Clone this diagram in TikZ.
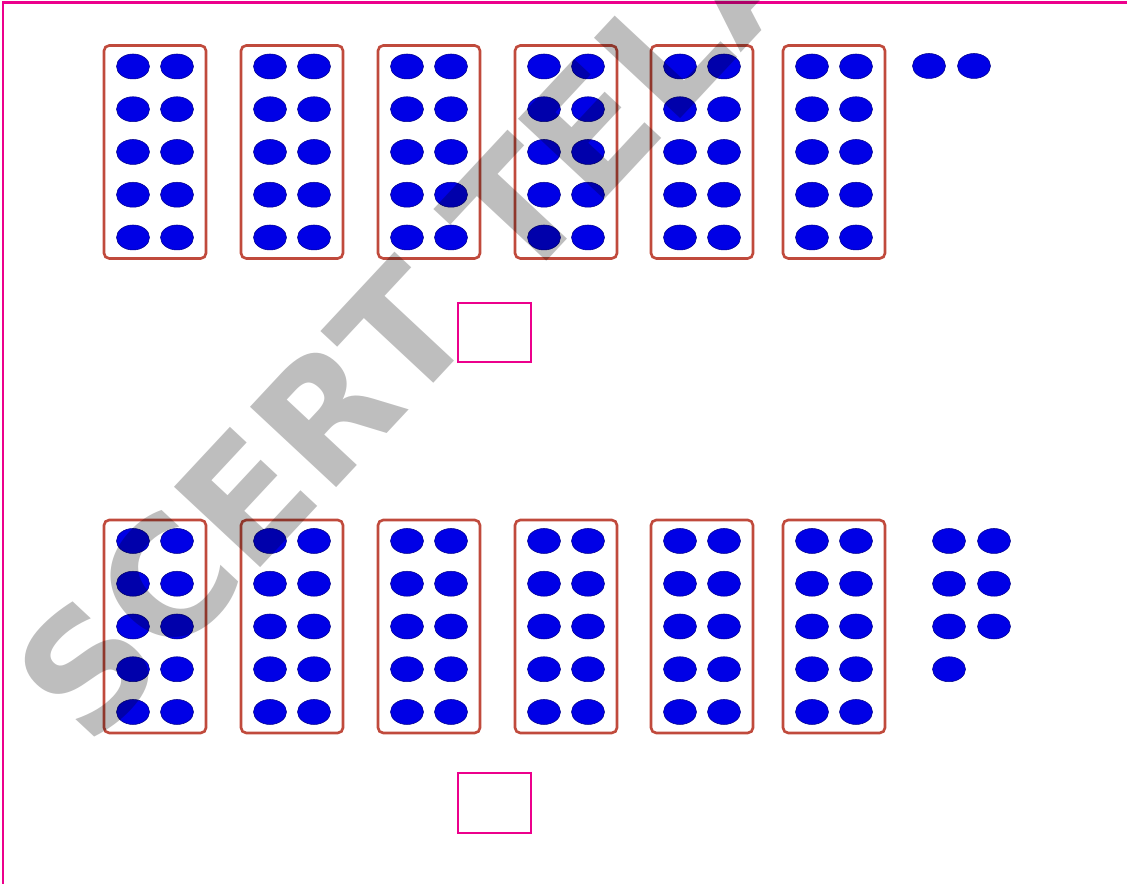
\documentclass[tikz,border=0pt]{standalone}
\usepackage{fontspec}
\setsansfont{DejaVu Sans}
\definecolor{rimpink}{HTML}{EC008C}
\definecolor{framered}{HTML}{C04A3C}
\definecolor{dotblue}{HTML}{0000E6}
\definecolor{wmgray}{HTML}{BEBEBE}
\tikzset{
  tenframe/.style={draw=framered,fill=white,line width=1.5pt,rounded corners=3pt,
    minimum width=2.04cm,minimum height=4.26cm,inner sep=0pt},
  dot/.style={fill=dotblue,draw=dotblue!60!black,line width=0.3pt},
  ansbox/.style={draw=rimpink,line width=1.4pt,minimum width=1.46cm,minimum height=1.19cm,inner sep=0pt},
  rim/.style={rimpink,line width=1.7pt},
  wmark/.style={text=wmgray,rotate=47,inner sep=0pt,
    font=\sffamily\bfseries\fontsize{92}{92}\selectfont},
}

\begin{document}
\begin{tikzpicture}
  \useasboundingbox (0,0) rectangle (22.54,17.68);
  \draw[rim] (0.06,0) -- (0.06,17.62) -- (22.54,17.62);
  % ten frames, both rows
  \foreach \x [count=\i] in {3.10,5.84,8.58,11.32,14.04,16.68} {
    \node[tenframe] (t\i) at (\x,14.64) {};
    \node[tenframe] (b\i) at (\x,5.15) {};
    \foreach \r in {-2,...,2} {
      \foreach \s in {-0.44,0.44} {
        \fill[dot] ({\x+\s},{14.64+0.855*\r}) ellipse[x radius=0.33,y radius=0.25];
        \fill[dot] ({\x+\s},{5.15+0.855*\r}) ellipse[x radius=0.33,y radius=0.25];
      }
    }
  }
  % loose dots
  \foreach \x in {18.58,19.48}
    \fill[dot] (\x,16.36) ellipse[x radius=0.33,y radius=0.25];
  \foreach \x/\y in {18.98/6.86,19.88/6.86,18.98/6.005,19.88/6.005,18.98/5.15,19.88/5.15,18.98/4.295}
    \fill[dot] (\x,\y) ellipse[x radius=0.33,y radius=0.25];
  % answer boxes
  \node[ansbox] (a1) at (9.89,11.03) {};
  \node[ansbox] (a2) at (9.89,1.62) {};
  % watermark
  \begin{scope}
    \clip (0,0) rectangle (22.54,17.68);
    \begin{scope}[blend mode=multiply]
      \node[wmark] (wm) at (8.30,11.35) {SCERT TELA};
    \end{scope}
  \end{scope}
\end{tikzpicture}
\end{document}
